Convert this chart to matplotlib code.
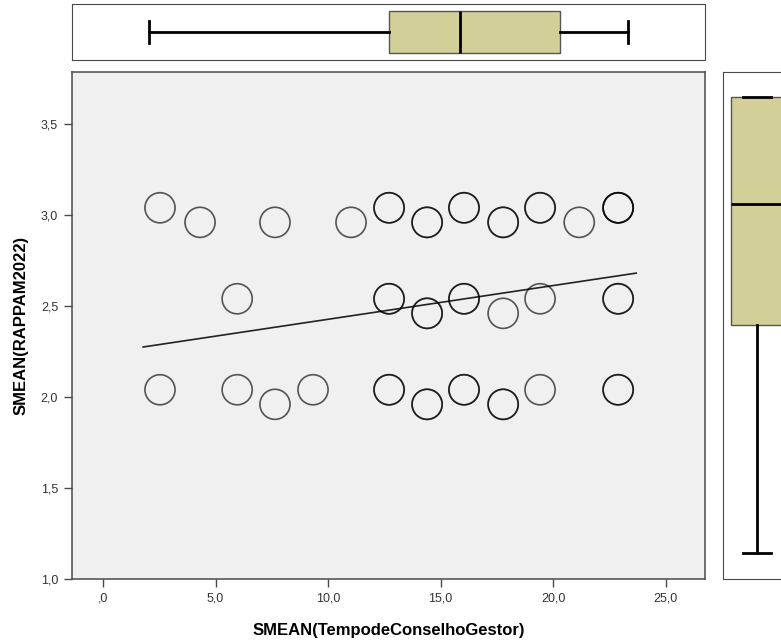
import numpy as np
import matplotlib
matplotlib.use("Agg")
import matplotlib.pyplot as plt
from matplotlib.ticker import FuncFormatter

plt.rcParams['font.family'] = ['Liberation Sans', 'DejaVu Sans']

# scatter data (x, y, number of overlapping cases)
x_vals = [2.53, 12.71, 16.04, 19.42, 22.89,
          4.31, 7.64, 11.02, 14.40, 17.78, 21.16,
          5.96, 12.71, 16.04, 19.42, 22.89,
          14.40, 17.78,
          2.53, 5.96, 9.33, 12.71, 16.04, 19.42, 22.89,
          7.64, 14.40, 17.78]
y_vals = [3.04] * 5 + [2.96] * 6 + [2.54] * 5 + [2.46] * 2 + [2.04] * 7 + [1.96] * 3
counts = [1, 2, 2, 2, 3,
          1, 1, 1, 2, 2, 1,
          1, 2, 2, 1, 2,
          2, 1,
          1, 1, 1, 2, 2, 1, 2,
          1, 2, 2]

# fit line
fit_slope = 0.01853
fit_intercept = 2.242
fit_x_range = [1.78, 23.69]

# marginal boxplot stats
x_box = dict(whislo=2.04, q1=12.71, med=15.87, q3=20.31, whishi=23.33)
y_box = dict(whislo=1.143, q1=2.396, med=3.06, q3=3.648, whishi=3.648)

box_color = '#d3cf98'
frame_color = '#4a4a4a'


def comma_fmt(v, pos):
    s = f"{v:.1f}".replace('.', ',')
    if s.startswith('0,'):
        s = s[1:]
    return s


fig = plt.figure(figsize=(7.81, 6.42), dpi=100)

ax = fig.add_axes([0.0922, 0.0981, 0.8105, 0.7897])
ax_top = fig.add_axes([0.0922, 0.9065, 0.8105, 0.0872])
ax_right = fig.add_axes([0.9257, 0.0981, 0.087, 0.7897])

# main scatter
ax.set_facecolor('#f0f0f0')
for xv, yv, n in zip(x_vals, y_vals, counts):
    for _ in range(n):
        ax.scatter(xv, yv, s=470, facecolors='none', edgecolors='black',
                   linewidths=1.2, alpha=0.65, zorder=3)

fx = np.array(fit_x_range)
ax.plot(fx, fit_intercept + fit_slope * fx, color='#222222', lw=1.2, zorder=2)

ax.set_xlim(-1.38, 26.75)
ax.set_ylim(1.0, 3.786)
ax.set_xticks([0, 5, 10, 15, 20, 25])
ax.set_yticks([1.0, 1.5, 2.0, 2.5, 3.0, 3.5])
ax.xaxis.set_major_formatter(FuncFormatter(comma_fmt))
ax.yaxis.set_major_formatter(FuncFormatter(comma_fmt))
ax.tick_params(direction='out', length=6, width=1, color=frame_color,
               labelsize=9, labelcolor='#333333', pad=4)
for sp in ax.spines.values():
    sp.set_color(frame_color)
    sp.set_linewidth(1.1)
ax.set_xlabel('SMEAN(TempodeConselhoGestor)', fontsize=12, fontweight='bold',
              labelpad=13)
ax.set_ylabel('SMEAN(RAPPAM2022)', fontsize=12, fontweight='bold', labelpad=9)

# top boxplot
st = dict(x_box, fliers=[])
ax_top.bxp([st], vert=False, positions=[0], widths=0.75, patch_artist=True,
           boxprops=dict(facecolor=box_color, edgecolor='#555555', linewidth=1),
           medianprops=dict(color='black', linewidth=2),
           whiskerprops=dict(color='black', linewidth=2),
           capprops=dict(color='black', linewidth=2), capwidths=0.4)
ax_top.set_xlim(-1.38, 26.75)
ax_top.set_ylim(-0.5, 0.5)
ax_top.set_xticks([])
ax_top.set_yticks([])
for sp in ax_top.spines.values():
    sp.set_color(frame_color)

# right boxplot
sr = dict(y_box, fliers=[])
ax_right.bxp([sr], vert=True, positions=[0], widths=0.75, patch_artist=True,
             boxprops=dict(facecolor=box_color, edgecolor='#555555', linewidth=1),
             medianprops=dict(color='black', linewidth=2),
             whiskerprops=dict(color='black', linewidth=2),
             capprops=dict(color='black', linewidth=2), capwidths=0.4)
ax_right.set_ylim(1.0, 3.786)
ax_right.set_xlim(-0.5, 0.5)
ax_right.set_xticks([])
ax_right.set_yticks([])
for sp in ax_right.spines.values():
    sp.set_color(frame_color)

fig.savefig('out.png', dpi=100)
